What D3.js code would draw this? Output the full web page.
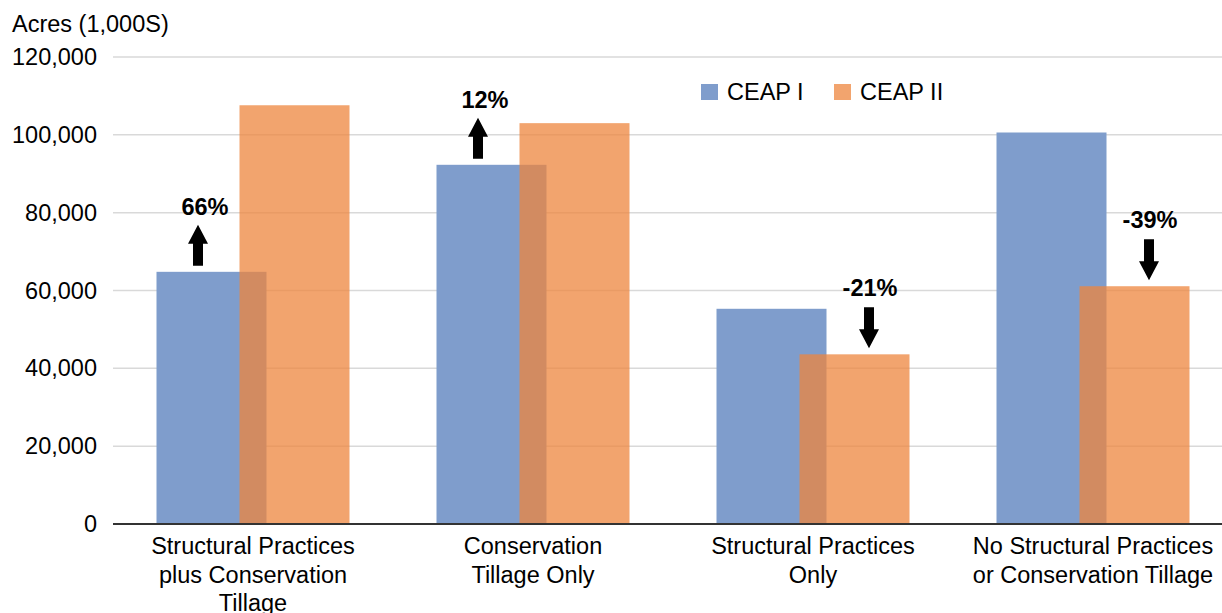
<!DOCTYPE html>
<html lang="en">
  <head>
    <meta charset="UTF-8" />
    <title>CEAP I vs CEAP II acres</title>
    <style>
      body { margin: 0; background: #fff; }
      text { font-family: "Liberation Sans", Arial, sans-serif; }
    </style>
  </head>
  <body>
    <script src="https://d3js.org/d3.v7.min.js"></script>
    <script>
      const width = 1222
      const height = 613

      // data (acres, 1,000s)
      const categories = [
        "Structural Practices plus Conservation Tillage",
        "Conservation Tillage Only",
        "Structural Practices Only",
        "No Structural Practices or Conservation Tillage"
      ]
      const categoryLines = [
        ["Structural Practices", "plus Conservation", "Tillage"],
        ["Conservation", "Tillage Only"],
        ["Structural Practices", "Only"],
        ["No Structural Practices", "or Conservation Tillage"]
      ]
      const seriesNames = ["CEAP I", "CEAP II"]
      const ceap1 = [64800, 92300, 55300, 100600]
      const ceap2 = [107600, 103000, 43600, 61100]
      const changeLabels = ["66%", "12%", "-21%", "-39%"]
      const yTicks = [0, 20000, 40000, 60000, 80000, 100000, 120000]

      const colors = ["#7f9dcc", "#ee863e"]

      const plotLeft = 113
      const plotTop = 57
      const plotBottom = 524
      const barW = 110
      const shift = 83

      const svg = d3.select("body").append("svg")
        .attr("width", width)
        .attr("height", height)

      const x = d3.scaleBand()
        .domain(categories)
        .range([plotLeft, plotLeft + 280 * categories.length])

      const y = d3.scaleLinear()
        .domain([0, 120000])
        .range([plotBottom, plotTop])

      // grid lines
      svg.append("g")
        .selectAll("line")
        .data(yTicks.filter(d => d > 0))
        .enter()
        .append("line")
        .attr("x1", plotLeft)
        .attr("x2", width)
        .attr("y1", d => y(d))
        .attr("y2", d => y(d))
        .attr("stroke", "#d9d9d9")
        .attr("stroke-width", 1.5)

      // y axis labels
      const yAxis = svg.append("g")
        .attr("transform", `translate(${plotLeft - 16},0)`)
        .call(d3.axisLeft(y).tickValues(yTicks).tickFormat(d3.format(",")).tickSize(0))
      yAxis.select(".domain").remove()
      yAxis.selectAll("text")
        .attr("x", 0)
        .style("font-size", "23.5px")
        .attr("fill", "#000")

      svg.append("text")
        .attr("x", 12)
        .attr("y", 32)
        .style("font-size", "23.5px")
        .text("Acres (1,000S)")

      // bars
      const barX = (i, s) => x(categories[i]) + (x.bandwidth() - barW - shift) / 2 + s * shift
      const seriesData = [ceap1, ceap2]

      seriesData.forEach((vals, s) => {
        svg.append("g")
          .selectAll("rect")
          .data(vals)
          .enter()
          .append("rect")
          .attr("x", (d, i) => barX(i, s))
          .attr("y", d => y(d))
          .attr("width", barW)
          .attr("height", d => y(0) - y(d))
          .attr("fill", colors[s])
          .attr("fill-opacity", s === 1 ? 0.75 : 1)
      })

      // zero line
      svg.append("line")
        .attr("x1", plotLeft)
        .attr("x2", width)
        .attr("y1", y(0))
        .attr("y2", y(0))
        .attr("stroke", "#333")
        .attr("stroke-width", 2)

      // category labels
      const xAxis = svg.append("g")
        .attr("transform", `translate(0,${plotBottom})`)
        .call(d3.axisBottom(x).tickSize(0).tickFormat(""))
      xAxis.select(".domain").remove()
      xAxis.selectAll(".tick text")
        .attr("y", 30)
        .attr("dy", 0)
        .style("font-size", "23.5px")
        .attr("fill", "#000")
        .each(function (d, i) {
          const t = d3.select(this)
          categoryLines[i].forEach((line, k) => {
            t.append("tspan")
              .attr("x", 0)
              .attr("y", 30 + k * 28.5)
              .text(line)
          })
        })

      // change arrows
      const arrowLen = 41
      const headLen = 19
      const headW = 10
      const shaftW = 5
      const arrowPath = (cx, base, dir) => {
        // dir -1 = up, 1 = down
        const tip = base + dir * arrowLen
        const neck = tip - dir * headLen
        return `M${cx - shaftW},${base}L${cx + shaftW},${base}L${cx + shaftW},${neck}` +
          `L${cx + headW},${neck}L${cx},${tip}L${cx - headW},${neck}L${cx - shaftW},${neck}Z`
      }

      categories.forEach((c, i) => {
        const up = ceap2[i] > ceap1[i]
        let cx, base, textY
        if (up) {
          cx = barX(i, 0) + shift / 2
          base = y(ceap1[i]) - 6
          textY = base - arrowLen - 10
        } else {
          cx = barX(i, 1) + barW - shift / 2 + 1
          base = y(ceap2[i]) - 6 - arrowLen
          textY = base - 11
        }
        svg.append("path")
          .attr("d", arrowPath(cx, base, up ? -1 : 1))
          .attr("fill", "#000")
        svg.append("text")
          .attr("x", cx + (up ? 7 : 1))
          .attr("y", textY)
          .attr("text-anchor", "middle")
          .style("font-size", "23.5px")
          .style("font-weight", "bold")
          .text(changeLabels[i])
      })

      // legend
      const legend = svg.append("g")
      const legendX = [701, 834]
      seriesNames.forEach((name, s) => {
        legend.append("rect")
          .attr("x", legendX[s])
          .attr("y", 84)
          .attr("width", 17)
          .attr("height", 16)
          .attr("fill", colors[s])
          .attr("fill-opacity", s === 1 ? 0.75 : 1)
        legend.append("text")
          .attr("x", legendX[s] + 26)
          .attr("y", 100)
          .style("font-size", "23.5px")
          .text(name)
      })
    </script>
  </body>
</html>
